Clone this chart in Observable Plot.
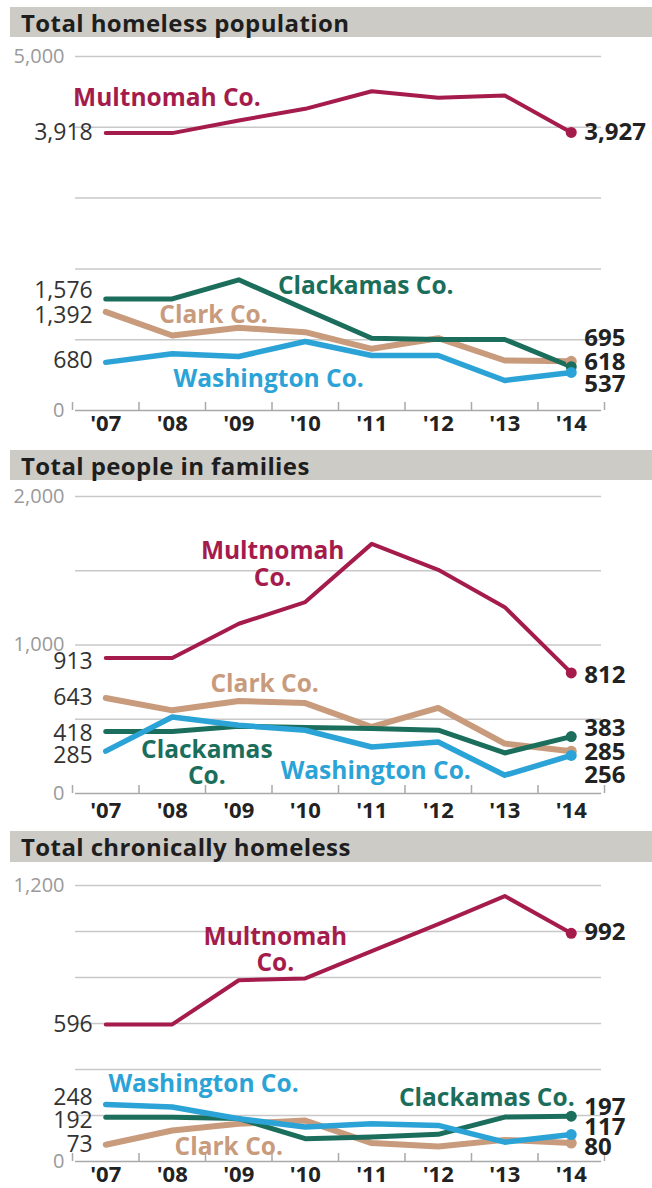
<!DOCTYPE html>
<html><head><meta charset="utf-8">
<script src="https://cdn.jsdelivr.net/npm/d3@7"></script>
<script src="https://cdn.jsdelivr.net/npm/@observablehq/plot@0.6"></script>
<style>
body{margin:0;background:#fff;}
#root{position:relative;width:652px;height:1188px;overflow:hidden;font-family:'Open Sans',sans-serif;}
.bar{position:absolute;left:10px;right:0;background:#cdcbc6;color:#1e1e1e;font-weight:700;font-size:24px;letter-spacing:0.4px;padding-left:11px;box-sizing:border-box;display:flex;align-items:center;}
.panel{position:absolute;left:0;}
svg{overflow:visible;}
</style></head><body><div id="root"></div>
<script>
// ---------- data ----------
const years = [2007, 2008, 2009, 2010, 2011, 2012, 2013, 2014];
const yearLabels = ["'07", "'08", "'09", "'10", "'11", "'12", "'13", "'14"];
const counties = ["Multnomah Co.", "Clackamas Co.", "Clark Co.", "Washington Co."];
const panelTitles = ["Total homeless population", "Total people in families", "Total chronically homeless"];

const homelessMultnomah  = [3918, 3918, 4096, 4261, 4510, 4417, 4449, 3927];
const homelessClackamas  = [1576, 1576, 1846, 1431, 1021, 1003, 1003, 618];
const homelessClark      = [1392, 1059, 1168, 1106, 871, 1021, 706, 695];
const homelessWashington = [680, 801, 763, 975, 777, 777, 424, 537];

const familiesMultnomah  = [913, 913, 1143, 1289, 1681, 1506, 1255, 812];
const familiesClackamas  = [418, 418, 453, 444, 437, 426, 273, 383];
const familiesClark      = [643, 560, 623, 609, 448, 576, 336, 285];
const familiesWashington = [285, 515, 459, 426, 313, 347, 123, 256];

const chronicMultnomah  = [596, 596, 788, 796, 915, 1032, 1154, 992];
const chronicClackamas  = [192, 192, 187, 99, 106, 118, 193, 197];
const chronicClark      = [73, 135, 164, 178, 80, 65, 94, 80];
const chronicWashington = [248, 237, 186, 150, 164, 157, 84, 117];

const homelessGrid = [0, 1000, 2000, 3000, 4000, 5000];
const familiesGrid = [0, 500, 1000, 1500, 2000];
const chronicGrid  = [0, 200, 400, 600, 800, 1000, 1200];
const homelessAxisLabels = [0, 5000];
const familiesAxisLabels = [0, 1000, 2000];
const chronicAxisLabels  = [0, 1200];

// series-name label anchors (year, value, text) per panel
const homelessNames = [
  {county: "Multnomah Co.", year: 2007.92, value: 4421, text: "Multnomah Co."},
  {county: "Clackamas Co.", year: 2010.91, value: 1766, text: "Clackamas Co."},
  {county: "Clark Co.", year: 2008.62, value: 1356, text: "Clark Co."},
  {county: "Washington Co.", year: 2009.45, value: 452, text: "Washington Co."}
];
const familiesNames = [
  {county: "Multnomah Co.", year: 2009.51, value: 1546, text: "Multnomah\nCo."},
  {county: "Clackamas Co.", year: 2008.52, value: 210, text: "Clackamas\nCo."},
  {county: "Clark Co.", year: 2009.39, value: 742, text: "Clark Co."},
  {county: "Washington Co.", year: 2011.06, value: 157, text: "Washington Co."}
];
const chronicNames = [
  {county: "Multnomah Co.", year: 2009.55, value: 922, text: "Multnomah\nCo."},
  {county: "Clackamas Co.", year: 2012.73, value: 280, text: "Clackamas Co."},
  {county: "Clark Co.", year: 2008.85, value: 65, text: "Clark Co."},
  {county: "Washington Co.", year: 2008.47, value: 341, text: "Washington Co."}
];

// ---------- styles ----------
const colors = {"Multnomah Co.": "#a51b4c", "Clackamas Co.": "#1b6e5b", "Clark Co.": "#c99b7d", "Washington Co.": "#2ba3d6"};
const widths = {"Multnomah Co.": 4, "Clackamas Co.": 5, "Clark Co.": 6, "Washington Co.": 5.5};
const drawOrder = ["Clark Co.", "Clackamas Co.", "Washington Co.", "Multnomah Co."];

const panels = [
  {title: panelTitles[0], top: 37, height: 413, marginTop: 19, marginBottom: 40, barTop: 7, barH: 30,
   series: [homelessMultnomah, homelessClackamas, homelessClark, homelessWashington],
   grid: homelessGrid, axisLabels: homelessAxisLabels, names: homelessNames, yearDy: 13.5,
   leftDy: {"Multnomah Co.": 0, "Clackamas Co.": -8, "Clark Co.": 4, "Washington Co.": -2},
   rightDy: {"Multnomah Co.": 0, "Clackamas Co.": -4.5, "Clark Co.": -23, "Washington Co.": 12}},
  {title: panelTitles[1], top: 480, height: 350, marginTop: 16, marginBottom: 37, barTop: 450, barH: 30,
   series: [familiesMultnomah, familiesClackamas, familiesClark, familiesWashington],
   grid: familiesGrid, axisLabels: familiesAxisLabels, names: familiesNames, yearDy: 17,
   leftDy: {"Multnomah Co.": 4, "Clackamas Co.": 2, "Clark Co.": 0, "Washington Co.": 4},
   rightDy: {"Multnomah Co.": 2, "Clackamas Co.": -8, "Clark Co.": 1, "Washington Co.": 20}},
  {title: panelTitles[2], top: 862, height: 326, marginTop: 23, marginBottom: 27, barTop: 831, barH: 31,
   series: [chronicMultnomah, chronicClackamas, chronicClark, chronicWashington],
   grid: chronicGrid, axisLabels: chronicAxisLabels, names: chronicNames, yearDy: 13,
   leftDy: {"Multnomah Co.": 0, "Clackamas Co.": 3, "Clark Co.": 0, "Washington Co.": -7},
   rightDy: {"Multnomah Co.": -1.5, "Clackamas Co.": -9, "Clark Co.": 4, "Washington Co.": -7.4}}
];

const boundaries = years.map(y => y - 0.5).concat([years[years.length - 1] + 0.5]);
const fmt = d3.format(",");
const root = document.getElementById("root");

for (const p of panels) {
  const bar = document.createElement("div");
  bar.className = "bar";
  bar.style.top = p.barTop + "px";
  bar.style.height = p.barH + "px";
  bar.textContent = p.title;
  root.appendChild(bar);

  const rows = [];
  counties.forEach((c, ci) => p.series[ci].forEach((v, i) => rows.push({county: c, year: years[i], value: v})));
  const first = rows.filter(d => d.year === years[0]);
  const last = rows.filter(d => d.year === years[years.length - 1]);
  const plotH = p.height - p.marginTop - p.marginBottom;
  const ymax = p.grid[p.grid.length - 1];

  const marks = [
    Plot.ruleY(p.grid.filter(v => v > 0), {stroke: "#c8c8c8", strokeWidth: 1.5, insetLeft: 3, insetRight: 3}),
    Plot.ruleY([0], {stroke: "#a9a9a9", strokeWidth: 1.5, insetLeft: 3, insetRight: 3}),
    Plot.ruleX(boundaries, {stroke: "#a9a9a9", strokeWidth: 1.5, insetTop: plotH - 8})
  ];
  for (const c of drawOrder) {
    marks.push(Plot.line(rows.filter(d => d.county === c), {x: "year", y: "value", stroke: colors[c], strokeWidth: widths[c], strokeLinejoin: "round", strokeLinecap: "round"}));
  }
  for (const c of drawOrder) {
    marks.push(Plot.dot(last.filter(d => d.county === c), {x: "year", y: "value", r: 5.5, fill: colors[c]}));
  }
  marks.push(
    Plot.text(p.axisLabels, {frameAnchor: "left", y: d => d, text: d => fmt(d), textAnchor: "end", dx: -8, fill: "#9a9a9a", fontSize: 20}),
    Plot.text(years, {x: d => d, text: (d, i) => yearLabels[i], frameAnchor: "bottom", lineAnchor: "middle", dy: p.yearDy, fill: "#222", fontSize: 22, fontWeight: 700})
  );
  for (const c of counties) {
    marks.push(Plot.text(first.filter(d => d.county === c), {x: "year", y: "value", text: d => fmt(d.value), textAnchor: "end", dx: -13, dy: p.leftDy[c], fill: "#333", fontSize: 23}));
    marks.push(Plot.text(last.filter(d => d.county === c), {x: "year", y: "value", text: d => fmt(d.value), textAnchor: "start", dx: 13, dy: p.rightDy[c], fill: "#222", fontSize: 24, fontWeight: 700}));
  }
  for (const n of p.names) {
    marks.push(Plot.text([n], {x: "year", y: "value", text: "text", fill: colors[n.county], fontSize: 24.5, fontWeight: 700, lineHeight: 1.08}));
  }

  const chart = Plot.plot({
    width: 652, height: p.height,
    marginLeft: 72, marginRight: 48, marginTop: p.marginTop, marginBottom: p.marginBottom,
    x: {domain: [years[0] - 0.5, years[years.length - 1] + 0.5], axis: null},
    y: {domain: [0, ymax], axis: null},
    style: {fontFamily: "'Open Sans', sans-serif", overflow: "visible", background: "transparent"},
    marks
  });
  const wrap = document.createElement("div");
  wrap.className = "panel";
  wrap.style.top = p.top + "px";
  wrap.appendChild(chart);
  root.appendChild(wrap);
}
</script></body></html>
